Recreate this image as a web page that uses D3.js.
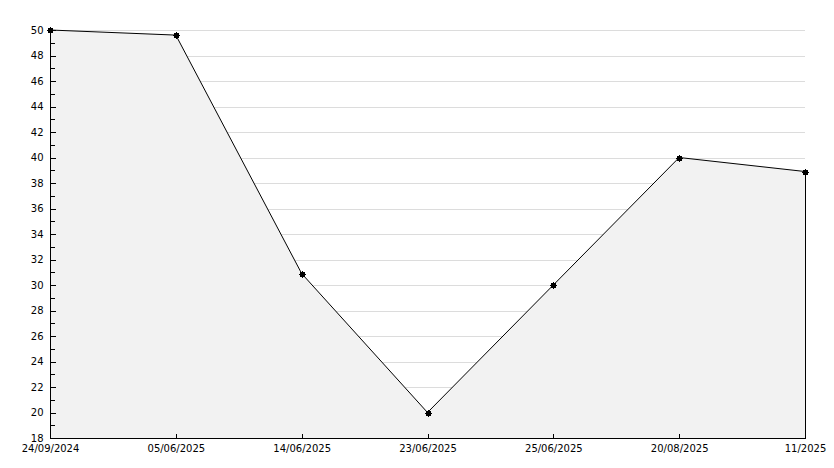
<!DOCTYPE html>
<html>
<head>
  <style>
    body { margin: 0; background: #fff; }
    text { font-family: "DejaVu Sans", sans-serif; font-size: 10px; fill: #000; }
  </style>
</head>
<body>
  <svg id="svg"></svg>
<script src="https://d3js.org/d3.v7.min.js"></script>
<script>
  var width = 834,
    height = 468;

  // data
  var dates = ["24/09/2024", "05/06/2025", "14/06/2025", "23/06/2025", "25/06/2025", "20/08/2025", "11/2025"];
  var values = [50, 49.6, 30.9, 20, 30, 40, 38.9];
  var yMin = 18, yMax = 50;

  var margin = { left: 50, right: 29, top: 30, bottom: 30 };

  var svg = d3.select("#svg").attr("width", width).attr("height", height);

  var x = d3.scalePoint()
    .domain(dates)
    .range([margin.left, width - margin.right]);

  var y = d3.scaleLinear()
    .domain([yMin, yMax])
    .range([height - margin.bottom, margin.top]);

  var data = dates.map(function (d, i) { return { date: d, value: values[i] }; });

  var majorTicks = d3.range(yMin, yMax + 1, 2);
  var minorTicks = d3.range(yMin + 1, yMax, 2);

  // GRID
  svg.append("g")
    .selectAll("line")
    .data(majorTicks.filter(function (d) { return d > yMin; }))
    .enter()
    .append("line")
    .attr("x1", margin.left)
    .attr("x2", width - margin.right)
    .attr("y1", function (d) { return Math.round(y(d)) + 0.5; })
    .attr("y2", function (d) { return Math.round(y(d)) + 0.5; })
    .attr("stroke", "#dcdcdc")
    .attr("shape-rendering", "crispEdges");

  // AREA
  var area = d3.area()
    .x(function (d) { return x(d.date); })
    .y0(y(yMin))
    .y1(function (d) { return y(d.value); });

  svg.append("path")
    .datum(data)
    .attr("d", area)
    .attr("fill", "#f2f2f2");

  // LINE
  var line = d3.line()
    .x(function (d) { return x(d.date); })
    .y(function (d) { return y(d.value); });

  svg.append("path")
    .datum(data)
    .attr("d", line)
    .attr("fill", "none")
    .attr("stroke", "#000")
    .attr("stroke-width", 1);

  // right edge of the area
  var last = data[data.length - 1];
  svg.append("line")
    .attr("x1", x(last.date) + 0.5)
    .attr("x2", x(last.date) + 0.5)
    .attr("y1", y(last.value))
    .attr("y2", y(yMin))
    .attr("stroke", "#000")
    .attr("shape-rendering", "crispEdges");

  // Y AXIS
  var yAxis = d3.axisLeft(y)
    .tickValues(majorTicks)
    .tickSize(-5)
    .tickPadding(7)
    .tickFormat(d3.format("d"));

  var gy = svg.append("g")
    .attr("transform", "translate(" + (margin.left + 0.5) + ",0)")
    .call(yAxis);
  gy.select(".domain").remove();
  gy.selectAll("line").attr("stroke", "#000").attr("shape-rendering", "crispEdges");
  gy.selectAll("text").style("font-size", "10px").style("font-family", "DejaVu Sans, sans-serif");

  svg.append("g")
    .selectAll("line")
    .data(minorTicks)
    .enter()
    .append("line")
    .attr("x1", margin.left)
    .attr("x2", margin.left + 5)
    .attr("y1", function (d) { return Math.round(y(d)) + 0.5; })
    .attr("y2", function (d) { return Math.round(y(d)) + 0.5; })
    .attr("stroke", "#000")
    .attr("shape-rendering", "crispEdges");

  svg.append("line")
    .attr("x1", margin.left + 0.5)
    .attr("x2", margin.left + 0.5)
    .attr("y1", y(yMax))
    .attr("y2", y(yMin))
    .attr("stroke", "#000")
    .attr("shape-rendering", "crispEdges");

  // X AXIS
  var xAxis = d3.axisBottom(x)
    .tickSize(-5)
    .tickPadding(6);

  var gx = svg.append("g")
    .attr("transform", "translate(0," + (y(yMin) + 0.5) + ")")
    .call(xAxis);
  gx.select(".domain").attr("d", "M" + margin.left + ",0H" + (width - margin.right)).attr("stroke", "#000");
  gx.selectAll("line").attr("stroke", "#000").attr("shape-rendering", "crispEdges");
  gx.selectAll("text").style("font-size", "10px").style("font-family", "DejaVu Sans, sans-serif");

  // MARKERS
  var marks = svg.append("g")
    .selectAll("g")
    .data(data)
    .enter()
    .append("g")
    .attr("transform", function (d) {
      return "translate(" + Math.round(x(d.date)) + "," + Math.round(y(d.value)) + ")";
    });
  marks.append("rect")
    .attr("x", -2).attr("y", -2).attr("width", 5).attr("height", 5)
    .attr("fill", "#000");
  marks.append("path")
    .attr("d", "M-3,0.5H4M0.5,-3V4")
    .attr("stroke", "#000")
    .attr("shape-rendering", "crispEdges");
</script>
</body>
</html>
